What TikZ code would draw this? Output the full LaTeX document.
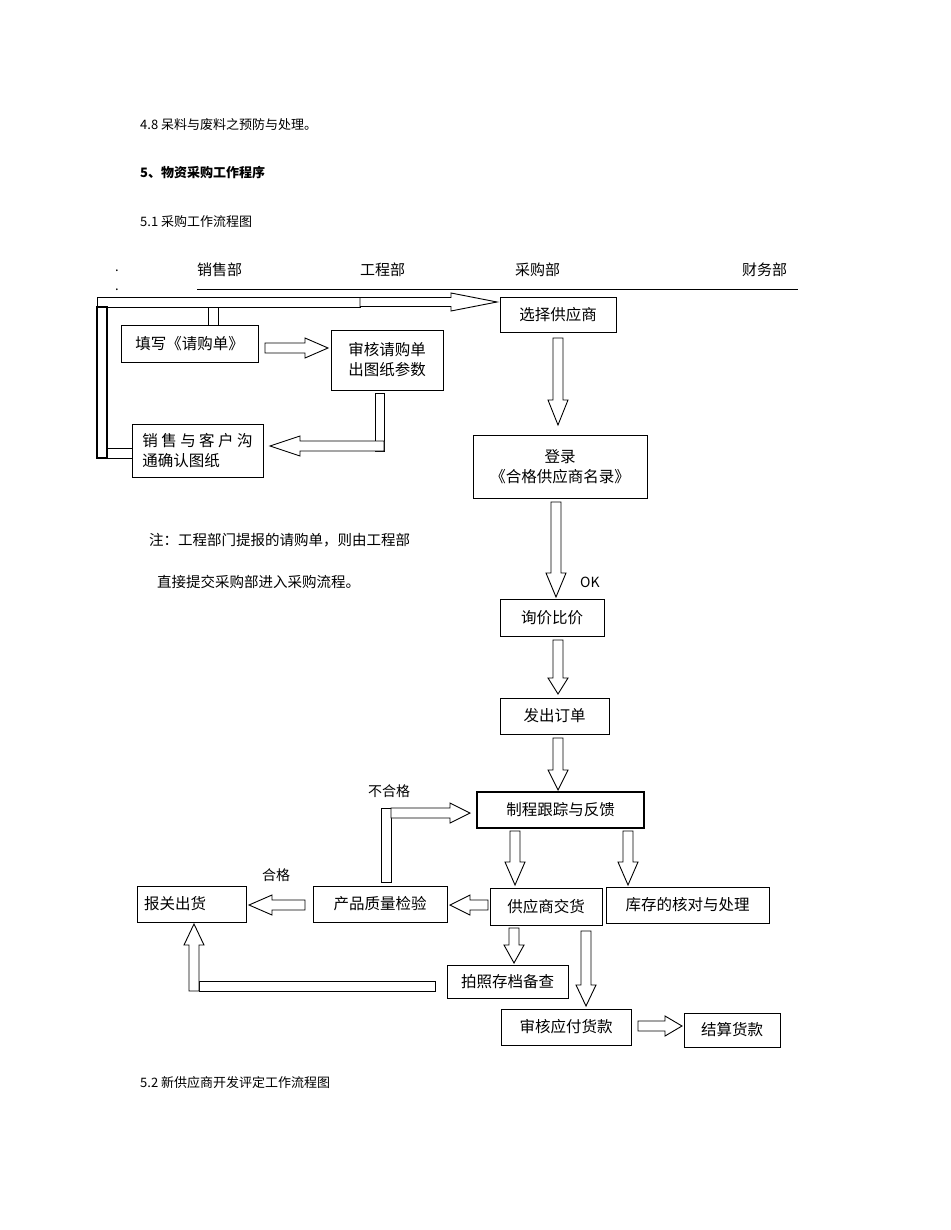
\documentclass[tikz,border=0pt]{standalone}
\usepackage{fontspec}
\setmainfont{Noto Sans CJK SC}
\newfontfamily\cjk{Noto Sans CJK SC}
\newcommand\myvarr[5]{\draw[blk] (#1-#5,#2) -- (#1+#5,#2) -- (#1+#5,#3) -- (#1+2*#5,#3) -- (#1,#4) -- (#1-2*#5,#3) -- (#1-#5,#3) -- cycle;}
\newcommand\myharr[5]{\draw[blk] (#2,#1-#5) -- (#2,#1+#5) -- (#3,#1+#5) -- (#3,#1+2*#5) -- (#4,#1) -- (#3,#1-2*#5) -- (#3,#1-#5) -- cycle;}
\begin{document}
\begin{tikzpicture}[x=1pt,y=-1pt,
 box/.style={draw,line width=0.9pt,inner sep=0pt,font=\fontsize{15.5}{20}\selectfont,align=center},
 blk/.style={draw,fill=white,line width=0.9pt,line join=miter},
 txt/.style={inner sep=0pt,anchor=west,font=\fontsize{13}{16}\selectfont}]
\useasboundingbox (0,0) rectangle (950,1230);
\node[txt] (t1) at (140,125) {4.8 呆料与废料之预防与处理。};
\node[txt,font=\fontsize{13}{16}\selectfont\bfseries] (t2) at (140,173) {5、物资采购工作程序};
\node[txt] (t3) at (140,222) {5.1 采购工作流程图};
\node[txt] (t4) at (140,1083) {5.2 新供应商开发评定工作流程图};
\node[txt,font=\fontsize{15}{16}\selectfont] (h1) at (197,270) {销售部};
\node[txt,font=\fontsize{15}{16}\selectfont] (h2) at (360,270) {工程部};
\node[txt,font=\fontsize{15}{16}\selectfont] (h3) at (515,270) {采购部};
\node[txt,font=\fontsize{15}{16}\selectfont] (h4) at (742,270) {财务部};
\node[txt] (d1) at (115,271) {.};
\node[txt] (d2) at (115,290) {.};
\draw[line width=0.6pt] (197,289) -- (798,289);
% frame
\draw[blk] (97,297) rectangle (360,307);
\draw[blk,line width=1.6pt] (97,307) rectangle (107,458);
\draw[blk] (107,448) rectangle (132,458);
\draw[blk] (208,307) rectangle (218,325);
\myharr{302}{360}{451}{497}{4.5}
% boxes
\node[box,minimum width=116,minimum height=35] (b1) at (558,314.5) {选择供应商};
\node[box,minimum width=137,minimum height=37] (b2) at (189.5,343.5) {填写《请购单》};
\node[box,minimum width=112,minimum height=60] (b3) at (387,360) {审核请购单\\出图纸参数};
\node[box,minimum width=131,minimum height=53,align=left] (b4) at (197.5,450.5) {销 售 与 客 户 沟\\通确认图纸};
\node[box,minimum width=174,minimum height=63] (b5) at (560,466.5) {登录\\《合格供应商名录》};
\node[box,minimum width=104,minimum height=37] (b6) at (552,617.5) {询价比价};
\node[box,minimum width=109,minimum height=36] (b7) at (554.5,716) {发出订单};
\node[box,minimum width=167,minimum height=36,line width=1.2pt] (b8) at (560.5,810) {制程跟踪与反馈};
\node[box,minimum width=109,minimum height=36,text width=95,align=left] (b9) at (191.5,904) {报关出货};
\node[box,minimum width=134,minimum height=36] (b10) at (380,904) {产品质量检验};
\node[box,minimum width=112,minimum height=37] (b11) at (546,906.5) {供应商交货};
\node[box,minimum width=163,minimum height=36] (b12) at (687.5,905) {库存的核对与处理};
\node[box,minimum width=121,minimum height=33] (b13) at (507.5,981.5) {拍照存档备查};
\node[box,minimum width=130,minimum height=36] (b14) at (566,1027) {审核应付货款};
\node[box,minimum width=96,minimum height=34] (b15) at (732,1030) {结算货款};
% arrows
\myharr{348}{265}{305}{328}{5}
\draw[blk] (375,393) rectangle (384,451);
\myharr{446}{384}{300}{270}{5}
\myvarr{558}{338}{400}{425}{5}
\myvarr{556}{502}{573}{597}{5}
\node[txt,font=\fontsize{14}{16}\selectfont] (ok) at (580,582) {OK};
\myvarr{558}{640}{678}{694}{5}
\myvarr{558}{738}{770}{790}{5}
\myvarr{515}{831}{862}{885}{5}
\myvarr{628}{831}{862}{885}{5}
\draw[blk] (381,808) rectangle (391,882);
\myharr{813}{391}{450}{470}{5}
\node[txt,font=\fontsize{14}{16}\selectfont] (ng) at (368,791) {不合格};
\myharr{905}{488}{470}{450}{5}
\myharr{905}{305}{272}{249}{5}
\node[txt,font=\fontsize{14}{16}\selectfont] (okk) at (262,875) {合格};
\myvarr{514}{928}{945}{963}{5}
\myvarr{586}{931}{985}{1006}{5}
\myharr{1026}{638}{665}{682}{5}
\draw[blk] (199,981) rectangle (435,991);
\myvarr{194}{991}{945}{924}{5}
\node[txt,font=\fontsize{14.5}{16}\selectfont] (n1) at (149,540) {注：工程部门提报的请购单，则由工程部};
\node[txt,font=\fontsize{14.5}{16}\selectfont] (n2) at (157,582) {直接提交采购部进入采购流程。};
\end{tikzpicture}
\end{document}
